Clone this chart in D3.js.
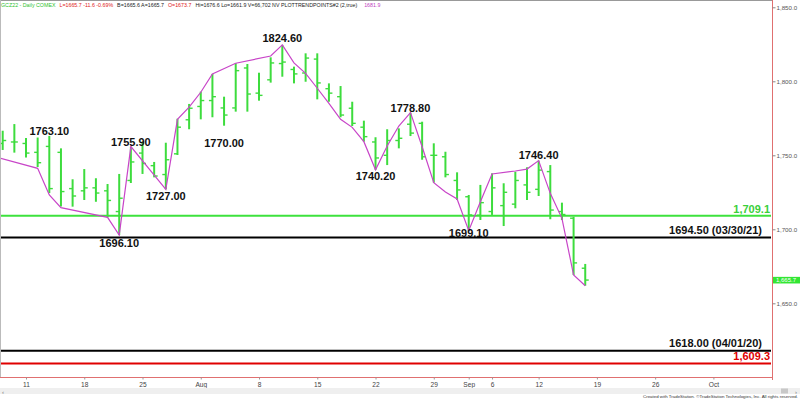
<!DOCTYPE html>
<html><head><meta charset="utf-8">
<script src="https://cdn.jsdelivr.net/npm/d3@7"></script>
<style>
body{margin:0;background:#fff}
svg{display:block;font-family:"Liberation Sans",Arial,sans-serif}
</style>
</head><body>
<svg id="chart" width="800" height="401"></svg>
<script>
// ---------- DATA ----------
// daily bars, trading-day index 0 = Jul 7 2022 ... 50 = Sep 16 2022
const opens  = [1758,1759,1758,1752,1756,1752,1727.5,1726,1728,1726,1712,1733,1751.5,1743,1737,1751,1774,1783,1787,1782,1782,1809,1792,1801,1812,1808,1805.6,1815,1795,1789.6,1781.8,1769,1759,1750,1760,1771,1771.6,1750,1749,1733,1722,1709.5,1712,1716,1717,1730,1727,1739,1712,1707.5,1673.7];
const highs  = [1766.6,1771.1,1761.7,1762,1763.1,1754.7,1733.8,1740.7,1734.5,1730.6,1737.4,1755.9,1759.2,1745.5,1758.5,1774.7,1784.7,1793,1805,1789.6,1812.2,1811.7,1805.8,1816.2,1824.6,1809.9,1818.9,1818.9,1798.6,1796.8,1786.2,1773.4,1762.2,1767.6,1768.2,1778.8,1772.7,1758.1,1752.4,1738.5,1723.2,1730,1737.8,1731.1,1738.9,1741.9,1746.4,1743.4,1718,1708.5,1676.6];
const lows   = [1753.6,1751.8,1748.5,1742.1,1724.5,1715.4,1715.3,1719.8,1718.6,1708.1,1696.1,1731.3,1737.4,1735.1,1727.0,1750.2,1767.6,1774.3,1775.7,1770.0,1779.5,1779.5,1786.9,1799.1,1803.1,1798.6,1799.7,1787.8,1786.2,1775.7,1769.8,1759.2,1740.2,1743.4,1754.7,1763,1747,1731.5,1735.1,1719.8,1699.1,1706.3,1709.7,1702.2,1714.2,1719.8,1722.5,1706.8,1706.3,1669.1,1661.9];
const closes = [1760,1759,1751.5,1745,1727.5,1725.5,1722.5,1728,1724.5,1719.5,1721,1745.5,1744.5,1736,1747,1769,1781.8,1787,1789.6,1777.2,1807.2,1791.4,1790.5,1812.4,1813,1805,1815.7,1798.9,1792,1777.2,1771.6,1762.6,1748.2,1760,1761.5,1765,1749,1750,1737,1726.6,1709.7,1718,1728,1725,1733,1725,1740,1713,1710,1677.3,1665.7];

// zig-zag trend points (PLOTTRENDPOINTS)
const trendIdx    = [-1,3,4,5,9,10,11,14,15,16,17,18,20,23,24,25,26,27,28,29,30,31,32,33,34,35,36,37,38,39,40,41,42,44,45,46,47,48,49,50];
const trendValues = [1749.8,1741.2,1723.2,1714.6,1708.1,1696.1,1755.9,1727.0,1774.3,1782.6,1792.6,1804.9,1812.2,1817.1,1824.6,1812.4,1805.4,1795.3,1785.1,1774.3,1768.9,1759.2,1740.2,1756.3,1769.8,1778.8,1755.8,1731.5,1725.2,1720.5,1699.1,1718.6,1737.4,1739.4,1740.7,1746.4,1724.3,1707.4,1669.1,1661.9];

// swing labels
const pivotIdx    = [4,10,11,14,19,24,32,35,40,46];
const pivotValues = [1763.10,1696.10,1755.90,1727.00,1770.00,1824.60,1740.20,1778.80,1699.10,1746.40];

// horizontal levels
const levelValues = [1709.1,1694.5,1618.0,1609.3];
const levelLabels = ["1,709.1","1694.50 (03/30/21)","1618.00 (04/01/20)","1,609.3"];

// axes
const yTicks = [1650,1700,1750,1800,1850];
const xTickIdx = [2,7,12,17,22,27,32,37,40,42,46,51,56,61];
const xTickLabels = ["11","18","25","Aug","8","15","22","29","Sep","6","12","19","26","Oct"];
const lastPrice = 1665.7;

// header pieces
const headerTexts = ["GCZ22 - Daily COMEX","L=1665.7 -11.6 -0.69%","B=1665.6 A=1665.7","O=1673.7","Hi=1676.6 Lo=1661.9 V=66,702 NV PLOTTRENDPOINTS#2 (2,true)","1681.9"];

// ---------- LAYOUT / STYLE ----------
const W = 800, H = 401, plotR = 772, plotB = 377;
const GREEN = "#3ddc3d", PURPLE = "#c845c8", BORDER = "#e07070";
const svg = d3.select("#chart");
svg.append("rect").attr("width",W).attr("height",H).attr("fill","#fff");

const x = d3.scaleLinear().domain([-0.232, 66.03]).range([0, plotR]);
const y = d3.scaleLinear().domain([1650, 1850]).range([303.3, 7.3]);

svg.append("defs").append("clipPath").attr("id","plotclip")
  .append("rect").attr("x",0).attr("y",0).attr("width",plotR).attr("height",plotB);
const plot = svg.append("g").attr("clip-path","url(#plotclip)");

// level lines
const levelColors = ["#3de23d","#000","#000","#e00000"];
const levelTextColors = ["#3ad03a","#111","#111","#e00000"];
const levelTextEnd = [770,762,762,770];
plot.selectAll("line.level").data(levelValues).join("line")
  .attr("class","level")
  .attr("x1",0).attr("x2",plotR-1)
  .attr("y1",d=>y(d)).attr("y2",d=>y(d))
  .attr("stroke",(d,i)=>levelColors[i]).attr("stroke-width",2);
svg.selectAll("text.level").data(levelValues).join("text")
  .attr("class","level")
  .attr("x",(d,i)=>levelTextEnd[i]).attr("y",d=>y(d)-3.3)
  .attr("text-anchor","end").attr("font-weight","bold").attr("font-size",11)
  .attr("fill",(d,i)=>levelTextColors[i])
  .text((d,i)=>levelLabels[i]);

// OHLC bars
const bars = plot.append("g").attr("stroke",GREEN);
d3.range(opens.length).forEach(i=>{
  const cx = x(i);
  bars.append("line").attr("x1",cx).attr("x2",cx)
    .attr("y1",y(highs[i])).attr("y2",y(lows[i])).attr("stroke-width",2);
  bars.append("line").attr("x1",cx-3.5).attr("x2",cx)
    .attr("y1",y(opens[i])).attr("y2",y(opens[i])).attr("stroke-width",1.4);
  bars.append("line").attr("x1",cx).attr("x2",cx+3.5)
    .attr("y1",y(closes[i])).attr("y2",y(closes[i])).attr("stroke-width",1.4);
});

// trend line
const trendLine = d3.line().x((d,i)=>x(trendIdx[i])).y(d=>y(d));
plot.append("path").datum(trendValues)
  .attr("d",trendLine).attr("fill","none")
  .attr("stroke",PURPLE).attr("stroke-width",1.2);

// pivot labels
const pivotDy = [-1.2,12,-0.5,10.8,21,-3,10.3,-1,6,-1.3];
svg.selectAll("text.pivot").data(pivotValues).join("text")
  .attr("class","pivot")
  .attr("x",(d,i)=>x(pivotIdx[i])).attr("y",(d,i)=>y(d)+pivotDy[i])
  .attr("text-anchor","middle").attr("font-weight","bold").attr("font-size",11)
  .attr("fill","#111")
  .text(d=>d3.format(".2f")(d));

// borders
svg.append("line").attr("x1",0).attr("x2",plotR).attr("y1",0.5).attr("y2",0.5).attr("stroke","#999");
svg.append("line").attr("x1",0.5).attr("x2",0.5).attr("y1",0).attr("y2",plotB).attr("stroke","#bbb");
svg.append("line").attr("x1",0).attr("x2",plotR).attr("y1",plotB+0.5).attr("y2",plotB+0.5).attr("stroke",BORDER);
svg.append("line").attr("x1",plotR+0.5).attr("x2",plotR+0.5).attr("y1",0).attr("y2",plotB+3).attr("stroke",BORDER);

// y axis
const yAxis = svg.append("g").attr("transform",`translate(${plotR+0.5},0)`)
  .call(d3.axisRight(y).tickValues(yTicks).tickSize(3).tickPadding(1).tickFormat(d3.format(",.1f")));
yAxis.select(".domain").remove();
yAxis.selectAll("line").attr("stroke","#888");
yAxis.selectAll("text").attr("font-size",6.2).attr("fill","#555").attr("font-family","Liberation Sans, Arial, sans-serif");

// last price marker
svg.append("rect").attr("x",plotR+1).attr("y",y(lastPrice)-3.2).attr("width",W-plotR-1).attr("height",6.6).attr("fill","#33e633");
svg.append("text").attr("x",plotR+4).attr("y",y(lastPrice)+2.2)
  .attr("font-size",6).attr("fill","#fff").text(d3.format(",.1f")(lastPrice));

// x axis
const xAxis = svg.append("g").attr("transform",`translate(0,${plotB+0.5})`)
  .call(d3.axisBottom(x).tickValues(xTickIdx).tickSize(2).tickPadding(3).tickFormat((d,i)=>xTickLabels[i]));
xAxis.select(".domain").remove();
xAxis.selectAll("line").attr("stroke","#999");
xAxis.selectAll("text").attr("font-size",6.6).attr("fill","#444").attr("font-family","Liberation Sans, Arial, sans-serif");

// header: coloured runs laid out one after another
const headerC = ["#2fbf2f","#e02020","#222","#e02020","#222","#c040c0"];
const headerGap = [4,4,4,4,7,0];
let hx = 1;
headerTexts.forEach((t,i)=>{
  const el = svg.append("text").attr("x",hx).attr("y",7).attr("font-size",5.3)
    .attr("fill",headerC[i]).text(t);
  hx += el.node().getComputedTextLength() + headerGap[i];
});

// scrollbar & footer
svg.append("rect").attr("x",0).attr("y",388).attr("width",W).attr("height",6).attr("fill","#efefef");
svg.append("rect").attr("x",781).attr("y",388.5).attr("width",7).attr("height",5).attr("fill","#c8c8c8");
svg.append("text").attr("x",2).attr("y",393.5).attr("font-size",6).attr("fill","#777").text("‹");
svg.append("text").attr("x",795).attr("y",393.5).attr("font-size",6).attr("fill","#777").text("›");
svg.append("text").attr("x",798).attr("y",398.2).attr("text-anchor","end").attr("font-size",4.4)
  .attr("fill","#333").attr("textLength",155).attr("lengthAdjust","spacingAndGlyphs")
  .text("Created with TradeStation. ©TradeStation Technologies, Inc. All rights reserved.");
</script>
</body></html>
